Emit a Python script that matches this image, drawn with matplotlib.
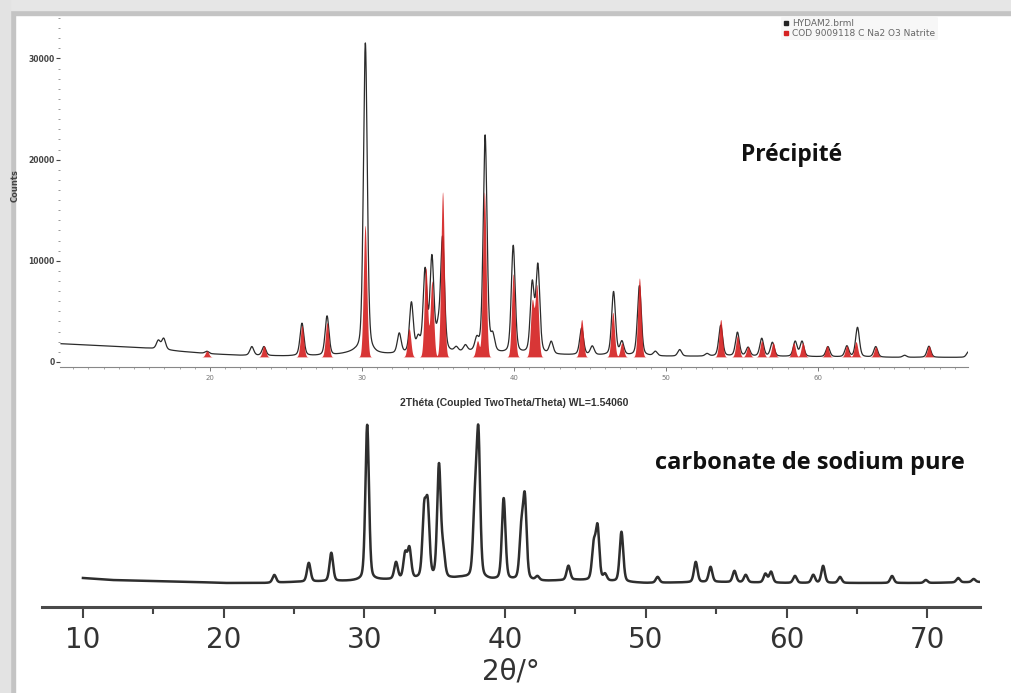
import numpy as np
import matplotlib
matplotlib.use("Agg")
import matplotlib.pyplot as plt
from matplotlib.lines import Line2D
from matplotlib.patches import Rectangle
from matplotlib.ticker import MultipleLocator

# ---- top pattern: precipitate (black measured trace) ----
# background points (2theta, counts)
top_bg_pos = [10.2, 13, 16, 18, 20, 22, 25, 28, 29.5, 31, 35, 37, 39, 42, 45, 50, 55, 60, 65, 69.9]
top_bg_cnt = [1800, 1600, 1350, 1050, 800, 650, 580, 600, 900, 700, 800, 900, 750, 700, 650, 550, 550, 500, 450, 450]
# peaks (2theta, top counts)
top_pk_pos = [16.6, 16.95, 19.8, 22.75, 23.55, 26.05, 27.7, 30.22, 32.45, 33.25, 33.7, 34.15, 34.6,
              35.0, 35.3, 36.2, 36.8, 37.55, 38.1, 38.6, 39.95, 41.2, 41.57, 42.45, 44.45, 45.15,
              46.55, 47.1, 48.25, 49.3, 50.9, 52.7, 53.6, 54.7, 55.4, 56.3, 57.0, 58.5, 58.95,
              60.65, 61.9, 62.6, 63.8, 65.7, 67.3, 69.9]
top_pk_cnt = [2100, 2300, 1050, 1500, 1500, 3800, 4500, 31500, 2700, 5700, 2100, 8800, 10000,
              2600, 12000, 1300, 1500, 2000, 22300, 2300, 11400, 7500, 9300, 1900, 3300, 1500,
              6900, 1900, 7500, 1000, 1200, 800, 3600, 2900, 1400, 2300, 1900, 2000, 2000,
              1500, 1550, 3400, 1500, 650, 1550, 1000]

# ---- reference COD 9009118 Na2CO3 natrite (red) ----
ref_pos = [19.8, 23.55, 26.05, 27.7, 30.2, 33.1, 34.2, 34.6, 35.3, 37.6, 38.05, 39.95, 41.2, 41.5,
           44.45, 46.5, 47.1, 48.25, 53.6, 54.7, 55.4, 56.3, 57.05, 58.4, 59.0, 60.6, 61.9, 62.5,
           63.8, 67.3]
ref_cnt = [1100, 1600, 3600, 3900, 13500, 3300, 9300, 8000, 16800, 2100, 16800, 8700, 6000, 7500,
           4200, 4900, 1900, 8300, 4200, 2600, 1500, 2100, 1900, 1900, 1900, 1600, 1600, 2000,
           1500, 1600]

# ---- bottom pattern: pure sodium carbonate (a.u.) ----
bot_bg_pos = [10, 12, 15, 18, 20, 23, 25, 29, 31, 36, 37, 39, 43, 45, 50, 55, 60, 65, 70, 73.7]
bot_bg_val = [5, 3, 2, 1, 0, 0, 1, 2, 3, 4, 5, 3, 2, 3, 0, 1, 0, 0, 0, 1]
bot_pk_pos = [23.6, 26.05, 27.65, 30.2, 32.25, 32.9, 33.2, 34.25, 34.5, 35.3, 35.6, 36.7, 37.85,
              38.1, 39.9, 41.15, 41.4, 42.3, 44.5, 46.3, 46.57, 47.1, 48.27, 50.84, 53.55, 54.6,
              56.3, 57.1, 58.5, 58.9, 60.6, 61.9, 62.6, 63.8, 67.5, 69.9, 72.2, 73.3]
bot_pk_val = [8, 20, 30, 158, 20, 28, 33, 68, 72, 116, 28, 5, 70, 145, 84, 48, 82, 6, 17, 36, 54,
              8, 51, 6, 21, 16, 12, 8, 9, 11, 7, 8, 17, 6, 7, 3, 5, 4]


def peaks(x, pos, amp, w, eta):
    y = np.zeros_like(x)
    for p, a in zip(pos, amp):
        d = (x - p) / w
        y += a * ((1 - eta) * np.exp(-4 * np.log(2) * d ** 2) + eta / (1 + 4 * d ** 2))
    return y


fig = plt.figure(figsize=(10.12, 6.93), dpi=100)
fig.patch.set_facecolor("white")

# frame bands
fig.patches.append(Rectangle((0, 1 - 15 / 693), 1, 15 / 693, transform=fig.transFigure,
                             color="#c4c4c4", zorder=-5))
fig.patches.append(Rectangle((0, 0), 15 / 1012, 1, transform=fig.transFigure,
                             color="#c4c4c4", zorder=-5))
fig.patches.append(Rectangle((0, 1 - 10 / 693), 1, 10 / 693, transform=fig.transFigure,
                             color="#e6e6e6", zorder=-4))
fig.patches.append(Rectangle((0, 0), 10 / 1012, 1, transform=fig.transFigure,
                             color="#e3e3e3", zorder=-4))

# ---------------- top panel ----------------
ax = fig.add_axes([60 / 1012, 1 - 367 / 693, 908 / 1012, 349 / 693])
ax.patch.set_alpha(0)
x = np.arange(10.2, 69.9, 0.005)
bg = np.interp(x, top_bg_pos, top_bg_cnt)
amp = np.array(top_pk_cnt) - np.interp(top_pk_pos, top_bg_pos, top_bg_cnt)
y = bg + peaks(x, top_pk_pos, amp, 0.3, 0.35)
ax.plot(x, y, color="#2b2b2b", lw=0.9, zorder=2)

ref_base = 500
yr = ref_base + peaks(x, ref_pos, np.array(ref_cnt) - ref_base, 0.26, 0.0)
ax.fill_between(x, ref_base, yr, color="#d42020", alpha=0.9, lw=0, zorder=3)

ax.set_xlim(10.13, 69.87)
ax.set_ylim(-500, 34000)
for s in ["top", "right", "left"]:
    ax.spines[s].set_visible(False)
ax.spines["bottom"].set_color("#888888")
ax.spines["bottom"].set_linewidth(0.8)
ax.xaxis.set_major_locator(MultipleLocator(10))
ax.xaxis.set_minor_locator(MultipleLocator(1))
ax.yaxis.set_major_locator(MultipleLocator(10000))
ax.yaxis.set_minor_locator(MultipleLocator(1000))
ax.tick_params(axis="x", which="major", length=3, width=0.7, colors="#777777",
               labelsize=5, pad=3)
ax.tick_params(axis="x", which="minor", length=1.5, width=0.6, colors="#999999")
ax.tick_params(axis="y", which="major", length=3, width=0.8, colors="#444444",
               labelsize=5.5, pad=1)
ax.tick_params(axis="y", which="minor", length=1.5, width=0.7, colors="#999999")
for t in ax.get_yticklabels():
    t.set_fontweight("bold")
ax.set_xlabel("2Théta (Coupled TwoTheta/Theta) WL=1.54060", fontsize=7.5,
              fontweight="bold", color="#333333", family="Liberation Sans", labelpad=12)
ax.set_ylabel("Counts", fontsize=6, fontweight="bold", color="#444444", labelpad=6)
ax.yaxis.set_label_coords(-0.045, 0.52)

handles = [Line2D([], [], marker="s", ls="none", color="#222222", markersize=3.5),
           Line2D([], [], marker="s", ls="none", color="#d42020", markersize=3.5)]
leg = ax.legend(handles, ["HYDAM2.brml", "COD 9009118 C Na2 O3 Natrite"],
                loc="upper left", bbox_to_anchor=(776 / 1012, 1 - 12 / 693),
                bbox_transform=fig.transFigure, fontsize=6.5, frameon=True,
                handletextpad=0.3, borderpad=0.3, labelspacing=0.05, handlelength=0.7)
leg.get_frame().set_facecolor("#f6f6f6")
leg.get_frame().set_edgecolor("none")
for t in leg.get_texts():
    t.set_color("#666666")

fig.text(792 / 1012, 1 - 155 / 693, "Précipité", family="Open Sans", fontweight="bold",
         fontsize=16.5, ha="center", va="center", color="#111111")

# ---------------- bottom panel ----------------
ax2 = fig.add_axes([42 / 1012, 1 - 607 / 693, 938 / 1012, 207 / 693])
ax2.patch.set_alpha(0)
xb = np.arange(10.0, 73.7, 0.005)
bgb = np.interp(xb, bot_bg_pos, bot_bg_val)
ampb = np.array(bot_pk_val) - np.interp(bot_pk_pos, bot_bg_pos, bot_bg_val)
yb = bgb + peaks(xb, bot_pk_pos, ampb, 0.3, 0.3)
ax2.plot(xb, yb, color="#2e2e2e", lw=1.8)
ax2.set_xlim(7.09, 73.75)
ax2.set_ylim(-24, 183)
for s in ["top", "right", "left"]:
    ax2.spines[s].set_visible(False)
ax2.spines["bottom"].set_color("#4a4a4a")
ax2.spines["bottom"].set_linewidth(2.2)
ax2.set_yticks([])
ax2.xaxis.set_major_locator(MultipleLocator(10))
ax2.xaxis.set_minor_locator(MultipleLocator(5))
ax2.tick_params(axis="x", which="major", length=8, width=1.5, colors="#444444",
                labelsize=20, pad=6, labelcolor="#333333")
ax2.tick_params(axis="x", which="minor", length=5, width=1.5, colors="#444444")
ax2.set_xlabel("2θ/°", fontsize=20, color="#333333", labelpad=2)

fig.text(810 / 1012, 1 - 463 / 693, "carbonate de sodium pure", family="Open Sans",
         fontweight="bold", fontsize=17, ha="center", va="center", color="#111111")

fig.savefig("out.png", dpi=100)
